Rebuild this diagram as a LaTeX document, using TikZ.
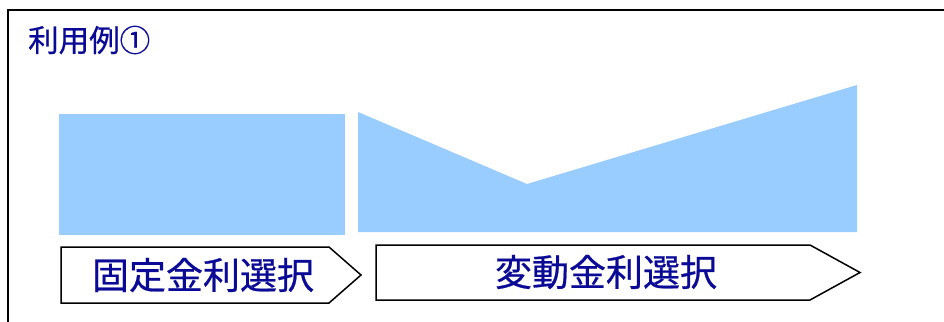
\documentclass[tikz,border=0pt]{standalone}
\usepackage{fontspec}
\newfontfamily\cjk[FakeBold=0.6]{Noto Sans CJK JP}
\definecolor{txtblue}{RGB}{10,10,150}
\definecolor{barblue}{RGB}{153,204,255}
\begin{document}
\begin{tikzpicture}[x=1pt,y=-1pt,
  label/.style={font=\cjk\fontsize{37}{42}\selectfont, text=txtblue, inner sep=0pt},
  arrowbox/.style={draw=black, line width=1.5pt, fill=white, line join=miter},
  bar/.style={fill=barblue, draw=none}]
\useasboundingbox (0,0) rectangle (944,321);
\clip (0,0) rectangle (944,321);
\draw[line width=2pt] (8,330) -- (8,10) -- (960,10);
\node[font=\cjk\fontsize{30.5}{34}\selectfont, text=txtblue, anchor=west, inner sep=0pt] (title) at (28,40) {利用例①};
% bars
\fill[bar] (59,114) rectangle (345,235);
\fill[bar] (358,112) -- (527,184) -- (857,85) -- (857,232) -- (358,232) -- cycle;
% arrows
\draw[arrowbox] (61,247) -- (329,247) -- (361,275) -- (329,303) -- (61,303) -- cycle;
\draw[arrowbox] (376,245) -- (810,245) -- (860,272.5) -- (810,300) -- (376,300) -- cycle;
\node[label] (fixed) at (203,275) {固定金利選択};
\node[label] (variable) at (606,272) {変動金利選択};
\end{tikzpicture}
\end{document}
